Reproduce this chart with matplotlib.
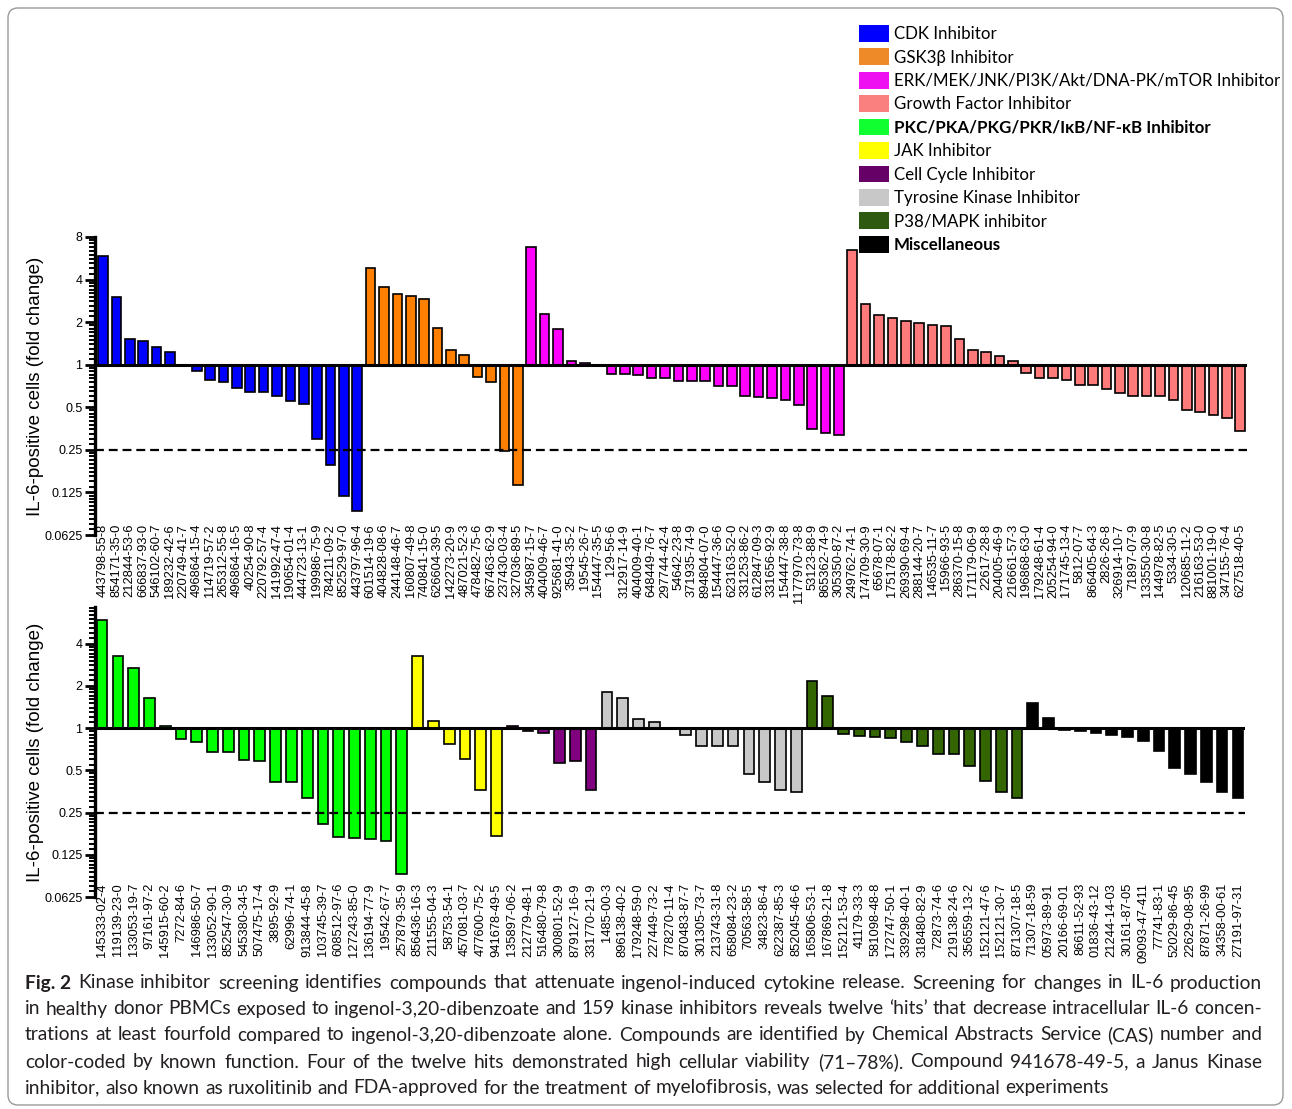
import numpy as np
import matplotlib
matplotlib.use('Agg')
import matplotlib.pyplot as plt
from matplotlib.patches import Patch, FancyBboxPatch
from matplotlib.transforms import IdentityTransform

# ---------------- data (top panel) ----------------
cdk_labels = ['443798-55-8', '854171-35-0', '212844-53-6', '666837-93-0', '546102-60-7', '189232-42-6',
              '220749-41-7', '496864-15-4', '114719-57-2', '265312-55-8', '496864-16-5', '40254-90-8',
              '220792-57-4', '141992-47-4', '190654-01-4', '444723-13-1', '199986-75-9', '784211-09-2',
              '852529-97-0', '443797-96-4']
cdk_vals = [5.88, 3.0, 1.53, 1.48, 1.33, 1.23, 0.99, 0.90, 0.78, 0.75, 0.68, 0.64,
            0.64, 0.60, 0.55, 0.525, 0.30, 0.194, 0.117, 0.092]

gsk_labels = ['601514-19-6', '404828-08-6', '244148-46-7', '160807-49-8', '740841-15-0', '626604-39-5',
              '142273-20-9', '487021-52-3', '478482-75-6', '667463-62-9', '237430-03-4', '327036-89-5']
gsk_vals = [4.86, 3.57, 3.17, 3.05, 2.92, 1.82, 1.28, 1.18, 0.82, 0.75, 0.247, 0.14]

erk_labels = ['345987-15-7', '404009-46-7', '925681-41-0', '35943-35-2', '19545-26-7', '154447-35-5',
              '129-56-6', '312917-14-9', '404009-40-1', '648449-76-7', '297744-42-4', '54642-23-8',
              '371935-74-9', '894804-07-0', '154447-36-6', '623163-52-0', '331253-86-2', '612847-09-3',
              '331656-92-9', '154447-38-8', '1177970-73-8', '53123-88-9', '865362-74-9', '305350-87-2']
erk_vals = [6.8, 2.29, 1.79, 1.07, 1.03, 0.99, 0.86, 0.86, 0.84, 0.81, 0.80, 0.77,
            0.77, 0.77, 0.71, 0.71, 0.60, 0.595, 0.585, 0.56, 0.52, 0.35, 0.33, 0.32]

gf_labels = ['249762-74-1', '174709-30-9', '65678-07-1', '175178-82-2', '269390-69-4', '288144-20-7',
             '146535-11-7', '15966-93-5', '286370-15-8', '171179-06-9', '22617-28-8', '204005-46-9',
             '216661-57-3', '196868-63-0', '179248-61-4', '205254-94-0', '171745-13-4', '5812-07-7',
             '866405-64-3', '2826-26-8', '326914-10-7', '71897-07-9', '133550-30-8', '144978-82-5',
             '5334-30-5', '120685-11-2', '216163-53-0', '881001-19-0', '347155-76-4', '627518-40-5']
gf_vals = [6.47, 2.69, 2.25, 2.14, 2.04, 1.98, 1.91, 1.88, 1.52, 1.28, 1.23, 1.16,
           1.07, 0.88, 0.81, 0.81, 0.78, 0.72, 0.72, 0.67, 0.63, 0.60, 0.60, 0.60,
           0.56, 0.48, 0.46, 0.44, 0.42, 0.34]

# ---------------- data (bottom panel) ----------------
pkc_labels = ['145333-02-4', '119139-23-0', '133053-19-7', '97161-97-2', '145915-60-2', '7272-84-6',
              '146986-50-7', '133052-90-1', '852547-30-9', '545380-34-5', '507475-17-4', '3895-92-9',
              '62996-74-1', '913844-45-8', '103745-39-7', '608512-97-6', '127243-85-0', '136194-77-9',
              '19542-67-7', '257879-35-9']
pkc_vals = [5.89, 3.26, 2.70, 1.65, 1.04, 0.84, 0.80, 0.67, 0.67, 0.59, 0.58, 0.41,
            0.41, 0.32, 0.206, 0.166, 0.164, 0.162, 0.156, 0.091]

jak_labels = ['856436-16-3', '211555-04-3', '58753-54-1', '457081-03-7', '477600-75-2', '941678-49-5']
jak_vals = [3.25, 1.12, 0.77, 0.60, 0.36, 0.17]

cc_labels = ['135897-06-2', '212779-48-1', '516480-79-8', '300801-52-9', '879127-16-9', '331770-21-9']
cc_vals = [1.03, 0.95, 0.92, 0.56, 0.58, 0.36]

tk_labels = ['1485-00-3', '896138-40-2', '179248-59-0', '227449-73-2', '778270-11-4', '870483-87-7',
             '301305-73-7', '213743-31-8', '658084-23-2', '70563-58-5', '34823-86-4', '622387-85-3',
             '852045-46-6']
tk_vals = [1.80, 1.63, 1.17, 1.10, 0.99, 0.89, 0.75, 0.74, 0.74, 0.47, 0.41, 0.36, 0.35]

p38_labels = ['165806-53-1', '167869-21-8', '152121-53-4', '41179-33-3', '581098-48-8', '172747-50-1',
              '339298-40-1', '318480-82-9', '72873-74-6', '219138-24-6', '356559-13-2', '152121-47-6',
              '152121-30-7', '871307-18-5']
p38_vals = [2.18, 1.70, 0.91, 0.88, 0.86, 0.85, 0.80, 0.75, 0.65, 0.65, 0.54, 0.42, 0.35, 0.32]

misc_labels = ['71307-18-59', '05973-89-91', '20166-69-01', '86611-52-93', '01836-43-12', '21244-14-03',
               '30161-87-05', '09093-47-411', '77741-83-1', '52029-86-45', '22629-08-95', '87871-26-99',
               '34358-00-61', '27191-97-31']
misc_vals = [1.51, 1.18, 0.97, 0.95, 0.92, 0.89, 0.86, 0.81, 0.69, 0.52, 0.47, 0.41, 0.35, 0.32]

legend_names = ['CDK Inhibitor', 'GSK3\u03b2 Inhibitor', 'ERK/MEK/JNK/PI3K/Akt/DNA-PK/mTOR Inhibitor',
                'Growth Factor Inhibitor', 'PKC/PKA/PKG/PKR/I\u03baB/NF-\u03baB Inhibitor', 'JAK Inhibitor',
                'Cell Cycle Inhibitor', 'Tyrosine Kinase Inhibitor', 'P38/MAPK inhibitor', 'Miscellaneous']
colors = ['#0000FF', '#FF8000', '#FF00FF', '#FF7B7B', '#00FF00', '#FFFF00',
          '#800080', '#C8C8C8', '#336600', '#000000']
legend_colors = ['#0000FF', '#EE8A28', '#EE10F0', '#FA8080', '#10FF30', '#FFFF00',
                 '#660066', '#C8C8C8', '#2D5A10', '#000000']

threshold = 0.25
yticks = [0.0625, 0.125, 0.25, 0.5, 1, 2, 4, 8]
ytick_labels = ['0.0625', '0.125', '0.25', '0.5', '1', '2', '4', '8']

caption_lines = [
    'Kinase inhibitor screening identifies compounds that attenuate ingenol-induced cytokine release. Screening for changes in IL-6 production',
    'in healthy donor PBMCs exposed to ingenol-3,20-dibenzoate and 159 kinase inhibitors reveals twelve \u2018hits\u2019 that decrease intracellular IL-6 concen-',
    'trations at least fourfold compared to ingenol-3,20-dibenzoate alone. Compounds are identified by Chemical Abstracts Service (CAS) number and',
    'color-coded by known function. Four of the twelve hits demonstrated high cellular viability (71\u201378%). Compound 941678-49-5, a Janus Kinase',
    'inhibitor, also known as ruxolitinib and FDA-approved for the treatment of myelofibrosis, was selected for additional experiments',
]

W, H = 1292, 1109
fig = plt.figure(figsize=(W / 100, H / 100), dpi=100)
plt.rcParams['font.family'] = ['Liberation Sans', 'DejaVu Sans']


def draw_panel(ax, groups, xlim, ymax, width, label_pad):
    labels, vals, cols = [], [], []
    for lab, val, c in groups:
        labels += lab
        vals += val
        cols += [c] * len(val)
    vals = np.array(vals)
    x = np.arange(len(vals))
    ax.set_yscale('log', base=2)
    ax.bar(x, vals - 1, bottom=1, width=width, color=cols, edgecolor='black', linewidth=1.2, zorder=2)
    ax.axhline(1, color='black', lw=2.2, zorder=3)
    ax.axhline(threshold, color='black', lw=1.6, ls=(0, (4, 2.2)), zorder=4)
    ax.set_xlim(*xlim)
    ax.set_ylim(0.0625, ymax)
    ticks = [t for t in yticks if t <= ymax]
    ax.set_yticks(ticks)
    ax.set_yticklabels(ytick_labels[:len(ticks)], fontsize=9)
    minors = []
    for k in range(-4, 3):
        for i in range(1, 10):
            v = 2.0 ** k * (1 + i / 10)
            if v < ymax:
                minors.append(v)
    ax.set_yticks(minors, minor=True)
    ax.tick_params(axis='y', which='major', length=7, width=2, pad=2)
    ax.tick_params(axis='y', which='minor', length=4, width=1.4, labelleft=False)
    ax.set_xticks(x)
    ax.set_xticklabels(labels, rotation=90, fontsize=9.3)
    ax.tick_params(axis='x', length=0, pad=label_pad)
    for s in ['top', 'right', 'bottom']:
        ax.spines[s].set_visible(False)
    ax.spines['left'].set_linewidth(2.4)
    ax.set_ylabel('IL-6-positive cells (fold change)', fontsize=13.5)
    ax.yaxis.set_label_coords(-0.044, 0.5)
    ax.patch.set_alpha(0)


ax1 = fig.add_axes([95 / W, 1 - 535 / H, (1247 - 95) / W, (535 - 237) / H])
draw_panel(ax1, [(cdk_labels, cdk_vals, colors[0]), (gsk_labels, gsk_vals, colors[1]),
                 (erk_labels, erk_vals, colors[2]), (gf_labels, gf_vals, colors[3])],
           (-0.6, 85.5), 8, 0.72, -8)

ax2 = fig.add_axes([95 / W, 1 - 897 / H, (1245 - 95) / W, (897 - 607) / H])
draw_panel(ax2, [(pkc_labels, pkc_vals, colors[4]), (jak_labels, jak_vals, colors[5]),
                 (cc_labels, cc_vals, colors[6]), (tk_labels, tk_vals, colors[7]),
                 (p38_labels, p38_vals, colors[8]), (misc_labels, misc_vals, colors[9])],
           (-0.45, 72.45), 7.3, 0.68, -10)

# legend
handles = [Patch(facecolor=c, edgecolor='none') for c in legend_colors]
leg = fig.legend(handles, legend_names, loc='upper left', bbox_to_anchor=(859 / W, 1 - 25 / H),
                 frameon=False, prop={'family': ['Lato', 'DejaVu Sans'], 'size': 12.2},
                 handlelength=1.75, handleheight=1.15, handletextpad=0.3, labelspacing=0.37,
                 borderpad=0, borderaxespad=0)
leg.get_texts()[4].set_fontweight('bold')
leg.get_texts()[9].set_fontweight('bold')

# border
fig.patches.append(FancyBboxPatch((8, 4), W - 17, H - 12, boxstyle='round,pad=0,rounding_size=10',
                                  transform=IdentityTransform(), fill=False, edgecolor='#9a9a9a',
                                  linewidth=1.0))

# caption, justified
renderer = fig.canvas.get_renderer()
cap_font = {'family': ['Lato', 'DejaVu Sans'], 'size': 13.8, 'color': '#231F20'}
x_left, x_right = 25, 1262
line_y = [983, 1009, 1035, 1062, 1088]


def place_line(words, y, justify):
    texts = []
    widths = []
    for w, weight in words:
        t = fig.text(0, 1 - y / H, w, fontweight=weight, va='center', ha='left', **cap_font)
        texts.append(t)
        widths.append(t.get_window_extent(renderer).width)
    sp = fig.text(0, 0, 'a a', **cap_font)
    sp_w = sp.get_window_extent(renderer).width
    sp2 = fig.text(0, 0, 'aa', **cap_font)
    space = sp_w - sp2.get_window_extent(renderer).width
    sp.remove()
    sp2.remove()
    if justify and len(words) > 1:
        gap = (x_right - x_left - sum(widths)) / (len(words) - 1)
    else:
        gap = space
    xpos = x_left
    for t, w in zip(texts, widths):
        t.set_x(xpos / W)
        xpos += w + gap


for i, line in enumerate(caption_lines):
    words = [(w, 'normal') for w in line.split(' ')]
    if i == 0:
        words = [('Fig. 2', 'bold')] + words
    place_line(words, line_y[i], i < len(caption_lines) - 1)

fig.savefig('out.png', dpi=100)
